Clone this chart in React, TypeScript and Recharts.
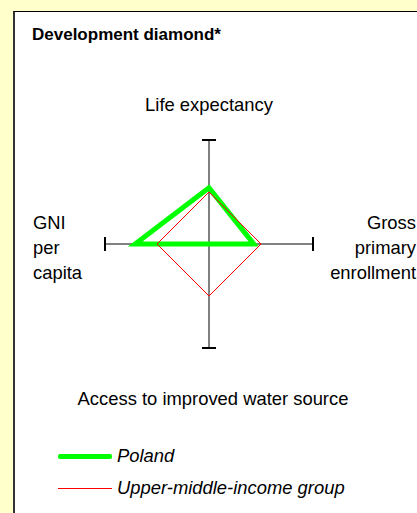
import React from 'react';
import { RadarChart, Radar, PolarGrid, PolarAngleAxis, PolarRadiusAxis, Legend } from 'recharts';

const axes = ['Life expectancy', 'Gross primary enrollment', 'Access to improved water source', 'GNI per capita'];
const poland = [0.54, 0.43, 0, 0.71];
const upperMiddle = [0.5, 0.5, 0.5, 0.5];

const data = axes.map((axis, i) => ({ axis, poland: poland[i], upperMiddle: upperMiddle[i] }));

const series = [
  { key: 'poland', name: 'Poland', color: '#00FF00', width: 5 },
  { key: 'upperMiddle', name: 'Upper-middle-income group', color: '#FF0000', width: 1 },
];

const FONT = '"Liberation Sans", Arial, sans-serif';
const FS = 18.4;
const TICK = 1;

// end caps and axis titles for the four spokes
const DiamondTick = (props: any) => {
  const { x, y, payload } = props;
  const a = (payload.coordinate * Math.PI) / 180;
  const c = Math.cos(a);
  const s = Math.sin(a);
  const px = x - TICK * c;
  const py = y + TICK * s;
  const vertical = Math.abs(c) < 0.5;
  const cap = vertical
    ? <line x1={px - 7} x2={px + 7} y1={py} y2={py} stroke="#000" strokeWidth={2} />
    : <line x1={px} x2={px} y1={py - 7} y2={py + 7} stroke="#000" strokeWidth={2} />;
  let label;
  if (vertical) {
    label = (
      <text x={s > 0 ? px : px + 4} y={s > 0 ? py - 29 : py + 57} textAnchor="middle" fontSize={FS} fill="#000" fontFamily={FONT}>
        {payload.value}
      </text>
    );
  } else {
    const words = String(payload.value).split(' ');
    const right = c > 0;
    const tx = right ? px + 103 : px - 72;
    label = (
      <text x={tx} y={py} textAnchor={right ? 'end' : 'start'} fontSize={FS} fill="#000" fontFamily={FONT}>
        {words.map((w, i) => (
          <tspan key={i} x={tx} y={py - 15 + i * 25}>{w}</tspan>
        ))}
      </text>
    );
  }
  return <g>{cap}{label}</g>;
};

const renderLegend = () => (
  <div style={{ fontFamily: FONT }}>
    {series.map((s) => (
      <div key={s.key} style={{ display: 'flex', alignItems: 'center', height: 32 }}>
        <span style={{ display: 'inline-block', width: 54, height: s.width, background: s.color, borderRadius: s.width > 2 ? 2 : 0, marginRight: 5 }} />
        <span style={{ fontSize: FS, fontStyle: 'italic', color: '#000', lineHeight: '18px' }}>{s.name}</span>
      </div>
    ))}
  </div>
);

export default function App() {
  return (
    <div style={{ position: 'absolute', left: 0, top: 0, width: 417, height: 513, background: '#FFFFCC', overflow: 'hidden' }}>
      <div style={{ position: 'absolute', left: 13, top: 11, right: 0, bottom: 0, background: '#fff', borderLeft: '2px solid #333', borderTop: '1px solid #000' }} />
      <div style={{ position: 'absolute', left: 32, top: 26, fontFamily: FONT, fontSize: 17, fontWeight: 'bold', lineHeight: '17px', color: '#000' }}>
        Development diamond*
      </div>
      <div style={{ position: 'absolute', left: 0, top: 0 }}>
        <RadarChart width={417} height={513} data={data} cx={209} cy={244} outerRadius={104} margin={{ top: 0, right: 0, bottom: 0, left: 0 }}>
          <PolarGrid gridType="polygon" polarRadius={[]} stroke="#808080" strokeWidth={2} />
          <PolarRadiusAxis domain={[0, 1]} tick={false} axisLine={false} />
          <PolarAngleAxis dataKey="axis" tick={<DiamondTick />} tickLine={false} axisLine={false} tickSize={TICK} />
          {series.map((s) => (
            <Radar
              key={s.key}
              dataKey={s.key}
              name={s.name}
              stroke={s.color}
              strokeWidth={s.width}
              fill="none"
              fillOpacity={0}
              dot={false}
              isAnimationActive={false}
            />
          ))}
          <Legend content={renderLegend} wrapperStyle={{ position: 'absolute', left: 58, top: 440, width: 340 }} />
        </RadarChart>
      </div>
    </div>
  );
}
